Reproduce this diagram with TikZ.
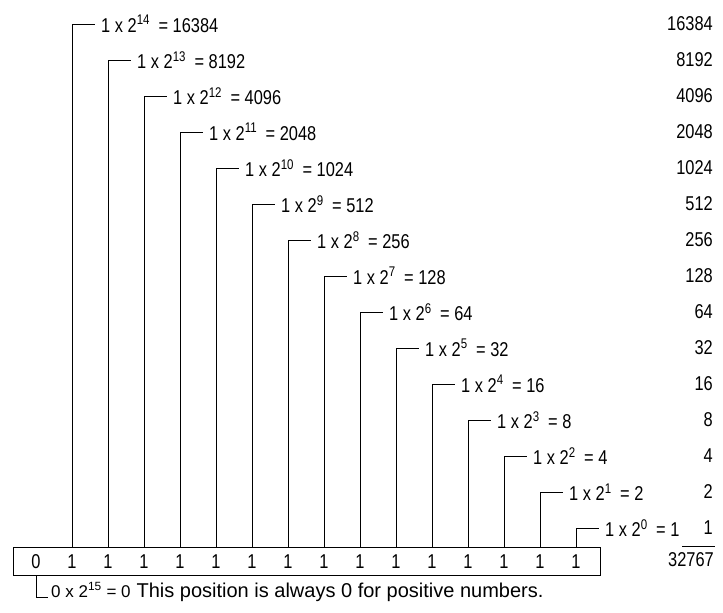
\documentclass[tikz,border=0pt]{standalone}
\usepackage{fontspec}
\setmainfont{Liberation Sans}[FakeStretch=0.82]
\newfontfamily\plainfont{Liberation Sans}
\usetikzlibrary{calc, positioning}

\begin{document}
\begin{tikzpicture}[
    x=1pt, y=-1pt,
    bit/.style={font=\fontsize{20}{22}\selectfont, inner sep=0pt, anchor=center},
    term/.style={font=\fontsize{20}{22}\selectfont, inner sep=0pt, anchor=west},
    val/.style={font=\fontsize{20}{22}\selectfont, inner sep=0pt, anchor=east},
    wire/.style={line width=0.8pt, black},
]
\useasboundingbox (0,0) rectangle (723,613);

% === Register (16 bits) ===
\node[draw, line width=0.8pt, minimum width=587pt, minimum height=28pt, inner sep=0pt, anchor=north west] (reg) at (13,547) {};
\node[bit] (d15) at (36,562) {0};

% === Bit weights, one row per bit ===
\foreach \k/\w in {14/16384, 13/8192, 12/4096, 11/2048, 10/1024, 9/512, 8/256, 7/128, 6/64, 5/32, 4/16, 3/8, 2/4, 1/2, 0/1} {
    \node[bit] (d\k) at ({72+36*(14-\k)},562) {1};
    \node[term] (t\k) at ({101+36*(14-\k)},{24+36*(14-\k)}) {1 x 2\textsuperscript{\k}\hspace{4pt} = \w};
    \node[val] (v\k) at (713,{24+36*(14-\k)}) {\w};
    \draw[wire] (reg.north -| d\k) |- ($(t\k.west)+(-6,0)$);
}

% Sum
\node[val] (sum) at (714,560) {32767};
\coordinate (sumL) at (682,546);
\coordinate (sumR) at (715,546);
\draw[wire] (sumL) -- (sumR);

% Sign bit note
\node[term, anchor=base west] (note) at (51,597) {{\plainfont\fontsize{17}{19}\selectfont 0 x 2\textsuperscript{15} = 0}\hspace{6pt}{\plainfont\fontsize{20}{22}\selectfont This position is always 0 for positive numbers.}};
\draw[wire] (reg.south -| d15) |- ($(note.base west)+(-3,0)$);
\end{tikzpicture}
\end{document}
